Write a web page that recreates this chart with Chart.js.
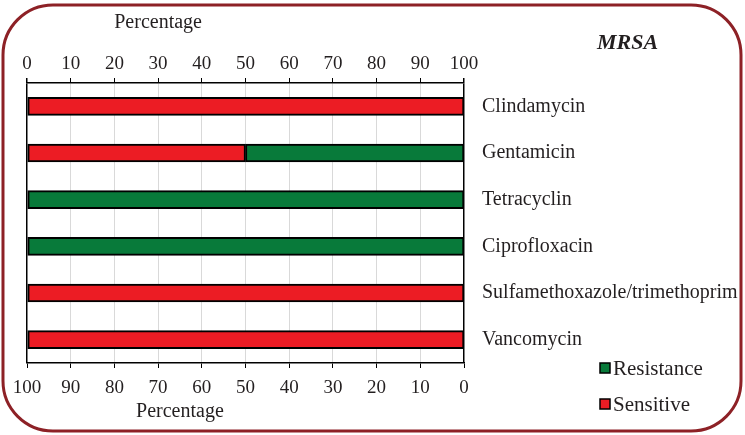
<!DOCTYPE html>
<html>
<head>
<meta charset="utf-8">
<script src="https://cdn.jsdelivr.net/npm/chart.js@4/dist/chart.umd.min.js"></script>
<style>
  html, body { margin: 0; padding: 0; background: #fff; }
  #wrap { width: 745px; height: 435px; position: relative; }
</style>
</head>
<body>
<div id="wrap"><canvas id="c"></canvas></div>
<script>
// MRSA susceptibility, percent of isolates
const categories = ['Clindamycin', 'Gentamicin', 'Tetracyclin', 'Ciprofloxacin', 'Sulfamethoxazole/trimethoprim', 'Vancomycin']
const sensitive = [100, 50, 0, 0, 100, 100]
const resistance = [0, 50, 100, 100, 0, 0]
const axisTitle = 'Percentage'
const chartTitle = 'MRSA'

const SERIF = '"Liberation Serif", "Times New Roman", serif'
const INK = '#231f20'
const RED = '#ec1c24'
const GREEN = '#087a3a'

// frame, titles and the legend are drawn by hand
const decorations = {
  id: 'decorations',
  beforeDraw(chart) {
    const ctx = chart.ctx
    ctx.save()
    ctx.fillStyle = '#fff'
    ctx.fillRect(0, 0, chart.width, chart.height)
    ctx.restore()
  },
  afterDraw(chart) {
    const ctx = chart.ctx
    const x = chart.scales.x
    ctx.save()
    // rounded frame
    ctx.strokeStyle = '#8d2126'
    ctx.lineWidth = 3
    ctx.beginPath()
    ctx.roundRect(3, 5, 738, 426, 50)
    ctx.stroke()

    ctx.fillStyle = INK
    ctx.textAlign = 'center'
    ctx.textBaseline = 'middle'
    ctx.font = '20px ' + SERIF
    ctx.fillText(axisTitle, x.getPixelForValue(30), 23)
    ctx.fillText(axisTitle, x.getPixelForValue(35), 412)

    ctx.font = 'italic bold 22px ' + SERIF
    ctx.textAlign = 'left'
    ctx.fillText(chartTitle, 597, 43)

    // legend, last dataset on top
    const ds = chart.data.datasets.slice().reverse()
    ds.forEach((d, i) => {
      const y = 368 + i * 36
      ctx.fillStyle = d.backgroundColor
      ctx.fillRect(600, y - 5, 10, 10)
      ctx.strokeStyle = '#000'
      ctx.lineWidth = 1.5
      ctx.strokeRect(600, y - 5, 10, 10)
      ctx.fillStyle = INK
      ctx.font = '21px ' + SERIF
      ctx.fillText(d.label, 613, y + 1)
    })
    ctx.restore()
  }
}

new Chart(document.getElementById('c'), {
  type: 'bar',
  data: {
    labels: categories,
    datasets: [
      { label: 'Sensitive', data: sensitive, backgroundColor: RED },
      { label: 'Resistance', data: resistance, backgroundColor: GREEN }
    ]
  },
  options: {
    indexAxis: 'y',
    responsive: true,
    maintainAspectRatio: false,
    animation: false,
    layout: { padding: { left: 27, top: 0, right: 0, bottom: 0 } },
    datasets: {
      bar: {
        barThickness: 18,
        borderColor: '#000',
        borderWidth: 2,
        borderSkipped: false
      }
    },
    plugins: {
      legend: { display: false },
      tooltip: { enabled: false }
    },
    scales: {
      x: {
        position: 'top',
        stacked: true,
        min: 0,
        max: 100,
        ticks: { stepSize: 10, color: INK, padding: 3, font: { family: SERIF, size: 19 } },
        grid: {
          color: c => (c.tick && (c.tick.value === 0 || c.tick.value === 100)) ? '#000' : '#d9d9d9',
          lineWidth: c => (c.tick && (c.tick.value === 0 || c.tick.value === 100)) ? 1.5 : 1,
          tickColor: '#000',
          tickLength: 5
        },
        border: { color: '#000', width: 1.5 },
        afterFit: s => { s.height = 83 }
      },
      x2: {
        position: 'bottom',
        reverse: true,
        min: 0,
        max: 100,
        ticks: { stepSize: 10, color: INK, padding: 9, font: { family: SERIF, size: 19 } },
        grid: { drawOnChartArea: false, tickColor: '#000', tickLength: 5 },
        border: { color: '#000', width: 1.5 },
        afterFit: s => { s.height = 72 }
      },
      y: {
        position: 'right',
        stacked: true,
        ticks: { color: INK, padding: 18, font: { family: SERIF, size: 20 } },
        grid: { display: false, drawTicks: false },
        border: { display: false },
        afterFit: s => { s.width = 281 }
      }
    }
  },
  plugins: [decorations]
})
</script>
</body>
</html>
